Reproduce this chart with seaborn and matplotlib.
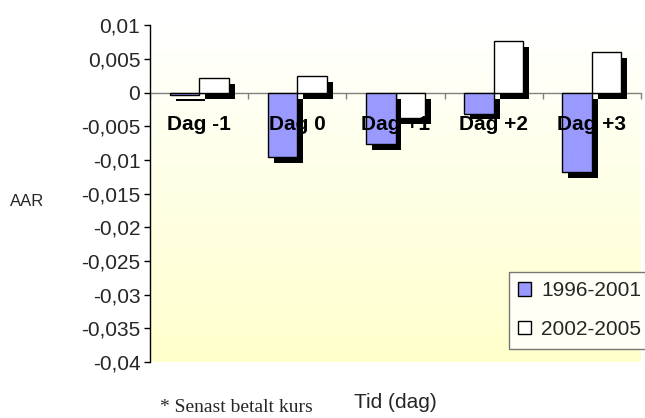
import numpy as np
import pandas as pd
import matplotlib
matplotlib.use("Agg")
import matplotlib.pyplot as plt
import matplotlib.patheffects as pe
from matplotlib.patches import Patch
import seaborn as sns

# ---- data ----
days = ["Dag -1", "Dag 0", "Dag +1", "Dag +2", "Dag +3"]
aar_1996_2001 = [-0.0003, -0.0095, -0.0077, -0.0031, -0.0118]
aar_2002_2005 = [0.0021, 0.0024, -0.0037, 0.0077, 0.0060]
periods = ["1996-2001", "2002-2005"]
yticks = [0.01, 0.005, 0, -0.005, -0.01, -0.015, -0.02, -0.025, -0.03, -0.035, -0.04]
ytick_labels = ["0,01", "0,005", "0", "-0,005", "-0,01", "-0,015", "-0,02",
                "-0,025", "-0,03", "-0,035", "-0,04"]

df = pd.DataFrame({
    "Dag": days * 2,
    "Period": [periods[0]] * len(days) + [periods[1]] * len(days),
    "AAR": aar_1996_2001 + aar_2002_2005,
})

sns.set_theme(style="white")
plt.rcParams["font.family"] = ["Liberation Sans", "DejaVu Sans"]

fig = plt.figure(figsize=(6.45, 4.18), dpi=100)
ax = fig.add_axes([150 / 645, 56 / 418, 491 / 645, (362 - 25.3) / 418])

colors = {"1996-2001": "#9999FF", "2002-2005": "#FFFFFF"}
sns.barplot(data=df, x="Dag", y="AAR", hue="Period", order=days,
            hue_order=periods, palette=colors, width=0.6,
            edgecolor="black", linewidth=1.0, saturation=1, ax=ax,
            legend=False)

shadow = [pe.SimplePatchShadow(offset=(4.3, -4.3), shadow_rgbFace="black", alpha=1.0),
          pe.Normal()]
for i, cont in enumerate(ax.containers):
    for p in cont:
        p.set_path_effects(shadow)
        p.set_zorder(3 if i == 0 else 2)

ax.set_xlim(-0.5, len(days) - 0.5)
ax.set_ylim(-0.04, 0.01)

# gradient background
grad = np.linspace(0, 1, 256).reshape(-1, 1)
top = np.array([1.0, 1.0, 1.0])
bot = np.array([1.0, 1.0, 0.80])
img = top + (bot - top) * grad[:, :, None] * np.ones((1, 1, 3))
ax.imshow(img, extent=[-0.5, len(days) - 0.5, -0.04, 0.01], origin="upper",
          aspect="auto", zorder=0)
ax.set_facecolor("none")

# axes styling
for s in ["top", "right"]:
    ax.spines[s].set_visible(False)
ax.spines["left"].set_color("black")
ax.spines["left"].set_linewidth(1.0)
ax.spines["bottom"].set_position(("data", 0))
ax.spines["bottom"].set_color("#808080")
ax.spines["bottom"].set_linewidth(1.0)
ax.spines["bottom"].set_zorder(1)

ax.set_yticks(yticks)
ax.set_yticklabels(ytick_labels)
ax.tick_params(axis="y", direction="out", length=4, width=1, color="black",
               labelsize=15, pad=3, left=True)
ax.set_xticks(np.arange(-0.5, len(days), 1.0))
ax.set_xticklabels([])
ax.tick_params(axis="x", direction="out", length=4, width=1, color="#808080",
               bottom=True)
ax.set_xlabel("")
ax.set_ylabel("")
ax.grid(False)

for i, d in enumerate(days):
    ax.text(i, -0.0047, d, ha="center", va="center", fontsize=15,
            fontweight="bold", color="black", zorder=5)

# legend
handles = [Patch(facecolor=colors[p], edgecolor="black", linewidth=1.0) for p in periods]
leg = fig.legend(handles, periods, loc="upper left",
                 bbox_to_anchor=(509 / 645, 1 - 272 / 418), fontsize=15,
                 frameon=True, fancybox=False, shadow=False,
                 handlelength=0.6, handleheight=0.6, handletextpad=0.5,
                 labelspacing=0.95, borderpad=0.45, borderaxespad=0)
leg.get_frame().set_edgecolor("#555555")
leg.get_frame().set_linewidth(1.0)
leg.get_frame().set_facecolor("white")

fig.text(27 / 645, 1 - 201 / 418, "AAR", ha="center", va="center", fontsize=12)
fig.text(395 / 645, 1 - 402 / 418, "Tid (dag)", ha="center", va="center", fontsize=15)
fig.text(160 / 645, 1.5 / 418, "* Senast betalt kurs", ha="left", va="bottom",
         fontsize=14, family=["Liberation Serif", "DejaVu Serif"])

fig.savefig("out.png", dpi=100)
